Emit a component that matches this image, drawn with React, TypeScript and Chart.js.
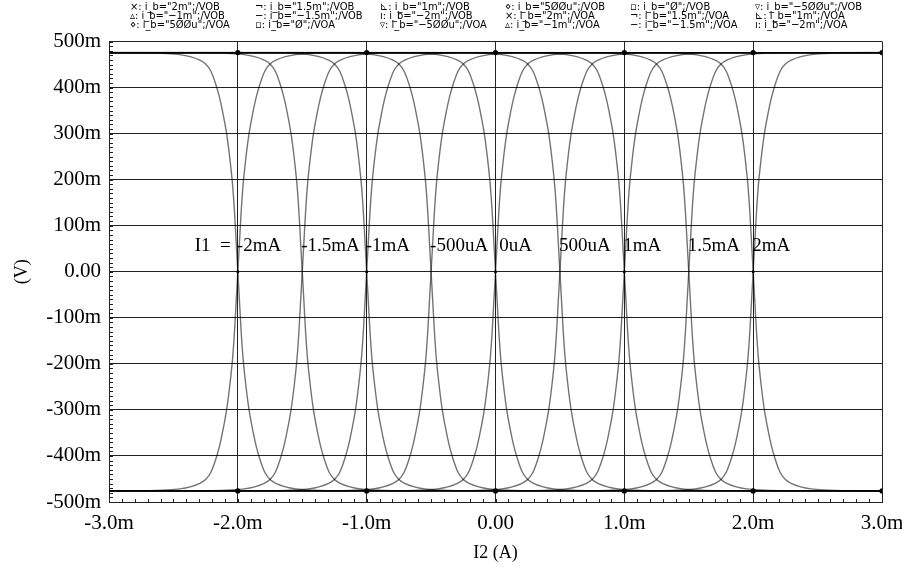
import React, { useEffect, useRef } from "react";
import { Chart, registerables } from "chart.js";
Chart.register(...registerables);

// Bias currents i_b (mA) in legend order
const ibValues = [2, 1.5, 1, 0.5, 0, -0.5, -1, -1.5, -2];
const ibLegendLabels = ["2m", "1.5m", "1m", "500u", "0", "−500u", "−1m", "−1.5m", "−2m"];
const legendSymbols = ["×", "¬", "⊾", "⋄", "▫", "▿", "▵", "−", "ı"];
const signals = ["VOB", "VOA"];

// Transition shape: offset from i_b (mA) -> output (mV), falling output
const profileDx = [-7, -0.7, -0.55, -0.45, -0.37, -0.3, -0.25, -0.21, -0.17, -0.14, -0.11, -0.085, -0.06, -0.04, -0.025, -0.012, 0,
  0.012, 0.025, 0.04, 0.06, 0.085, 0.11, 0.14, 0.17, 0.21, 0.25, 0.3, 0.37, 0.45, 0.55, 0.7, 7];
const profileV = [476, 475.5, 474, 471.5, 467, 460, 451, 436, 406, 376, 336, 296, 241, 186, 126, 60, 0,
  -60, -126, -186, -241, -296, -336, -376, -406, -436, -451, -460, -467, -471.5, -474, -475.5, -476];

// Marker positions
const markerX = [-2, -1, 0, 1, 2, 3];
const railV = [476, -476];

// Annotation labels
const annotationLabels = ["-2mA", "-1.5mA", "-1mA", "-500uA", " 0uA", "500uA", "1mA", "1.5mA", "2mA"];
const annotationAt = [-2, -1.5, -1, -0.5, 0, 0.5, 1, 1.5, 2];
const annotationPrefix = "I1  =";
const annotationLevel = 44; // mV (text baseline)

const xTitle = "I2 (A)";
const yTitle = "(V)";

const fmtX = (v: number) => (v === 0 ? "0.00" : `${v.toFixed(1)}m`);
const fmtY = (v: number) => (v === 0 ? "0.00" : `${v}m`);

export default function App() {
  const ref = useRef<HTMLCanvasElement>(null);
  useEffect(() => {
    if (!ref.current) return;
    const datasets: any[] = [];
    signals.forEach((sig, si) => {
      const sign = si === 0 ? 1 : -1;
      ibValues.forEach((ib) => {
        datasets.push({
          type: "line",
          label: `i_b="${ib}m";/${sig}`,
          data: profileDx.map((d, i) => ({ x: ib + d, y: sign * profileV[i] })),
          borderColor: "rgba(0,0,0,0.55)",
          borderWidth: 1.4,
          pointRadius: 0,
          cubicInterpolationMode: "monotone",
          fill: false,
        });
      });
    });
    const railPts: any[] = [];
    railV.forEach((v) => markerX.forEach((x) => railPts.push({ x, y: v })));
    const midPts: any[] = ibValues.filter((ib) => markerX.includes(ib)).map((ib) => ({ x: ib, y: 0 }));
    datasets.push({
      type: "scatter",
      label: "markers",
      data: railPts,
      pointRadius: 2.6,
      pointBackgroundColor: "#000",
      pointBorderColor: "#000",
      pointBorderWidth: 0,
      showLine: false,
    });
    datasets.push({
      type: "scatter",
      label: "markers-mid",
      data: midPts,
      pointRadius: 1.5,
      pointBackgroundColor: "#000",
      pointBorderColor: "#000",
      pointBorderWidth: 0,
      showLine: false,
    });

    const overlay = {
      id: "overlay",
      beforeDatasetsDraw(chart: any) {
        const { ctx, chartArea } = chart;
        const xs = chart.scales.x;
        const ys = chart.scales.y;
        ctx.save();
        ctx.strokeStyle = "#222";
        ctx.lineWidth = 1;
        ctx.beginPath();
        const b = Math.round(chartArea.bottom) + 0.5;
        for (let i = -30; i <= 30; i++) {
          const px = Math.round(xs.getPixelForValue(i / 10)) + 0.5;
          ctx.moveTo(px, b);
          ctx.lineTo(px, b - 3.5);
        }
        const l = Math.round(chartArea.left) + 0.5;
        for (let v = -500; v <= 500; v += 10) {
          const py = Math.round(ys.getPixelForValue(v)) + 0.5;
          ctx.moveTo(l, py);
          ctx.lineTo(l + 3.5, py);
        }
        ctx.stroke();
        ctx.restore();
      },
      afterDraw(chart: any) {
        const { ctx } = chart;
        const xs = chart.scales.x;
        const ys = chart.scales.y;
        ctx.save();
        // legend
        ctx.fillStyle = "#000";
        ctx.font = '11px "DejaVu Sans"';
        try { (ctx as any).fontStretch = "condensed"; } catch (e) {}
        ctx.textAlign = "left";
        ctx.textBaseline = "alphabetic";
        let k = 0;
        signals.forEach((sig) => {
          ibLegendLabels.forEach((lab, i) => {
            const row = Math.floor(k / 6);
            const col = k % 6;
            const shown = lab.replace(/0/g, "Ø");
            ctx.fillText(`${legendSymbols[i]}: i_b="${shown}";/${sig}`, 130 + col * 125, 10 + row * 9);
            k++;
          });
        });
        try { (ctx as any).fontStretch = "normal"; } catch (e) {}
        // annotations
        ctx.font = '19px "Liberation Serif"';
        const yb = ys.getPixelForValue(annotationLevel);
        annotationLabels.forEach((t, i) => {
          ctx.fillText(t, xs.getPixelForValue(annotationAt[i]) - 1, yb);
        });
        ctx.textAlign = "right";
        ctx.fillText(annotationPrefix, xs.getPixelForValue(annotationAt[0]) - 7, yb);
        ctx.restore();
      },
    };

    const chart = new Chart(ref.current, {
      type: "line",
      data: { datasets },
      plugins: [overlay],
      options: {
        animation: false,
        responsive: false,
        events: [],
        layout: { padding: { top: 41.5, right: 0, left: 0, bottom: 0 } },
        plugins: { legend: { display: false }, tooltip: { enabled: false }, title: { display: false } },
        scales: {
          x: {
            type: "linear",
            min: -3,
            max: 3,
            afterFit: (s: any) => { s.height = 67; s.paddingRight = 20; },
            ticks: {
              stepSize: 1,
              callback: (v: any) => fmtX(Number(v)),
              color: "#000",
              font: { family: "Liberation Serif", size: 21 },
              padding: 9,
              maxRotation: 0,
              autoSkip: false,
            },
            grid: { color: "#222", lineWidth: 1, drawTicks: false },
            border: { color: "#222", width: 1 },
            title: {
              display: true,
              text: xTitle,
              color: "#000",
              font: { family: "Liberation Serif", size: 18 },
              padding: { top: 0, bottom: 5 },
            },
          },
          y: {
            type: "linear",
            min: -500,
            max: 500,
            afterFit: (s: any) => { s.width = 109; },
            ticks: {
              stepSize: 100,
              callback: (v: any) => fmtY(Number(v)),
              color: "#000",
              font: { family: "Liberation Serif", size: 21 },
              padding: 8,
              autoSkip: false,
            },
            grid: { color: "#222", lineWidth: 1, drawTicks: false },
            border: { color: "#222", width: 1 },
            title: {
              display: true,
              text: yTitle,
              color: "#000",
              font: { family: "Liberation Serif", size: 18 },
              padding: { top: 11, bottom: 0 },
            },
          },
        },
      },
    } as any);
    return () => chart.destroy();
  }, []);
  return (
    <div style={{ position: "fixed", left: 0, top: 0, width: 902, height: 569, background: "#fff" }}>
      <canvas ref={ref} width={902} height={569} />
    </div>
  );
}
